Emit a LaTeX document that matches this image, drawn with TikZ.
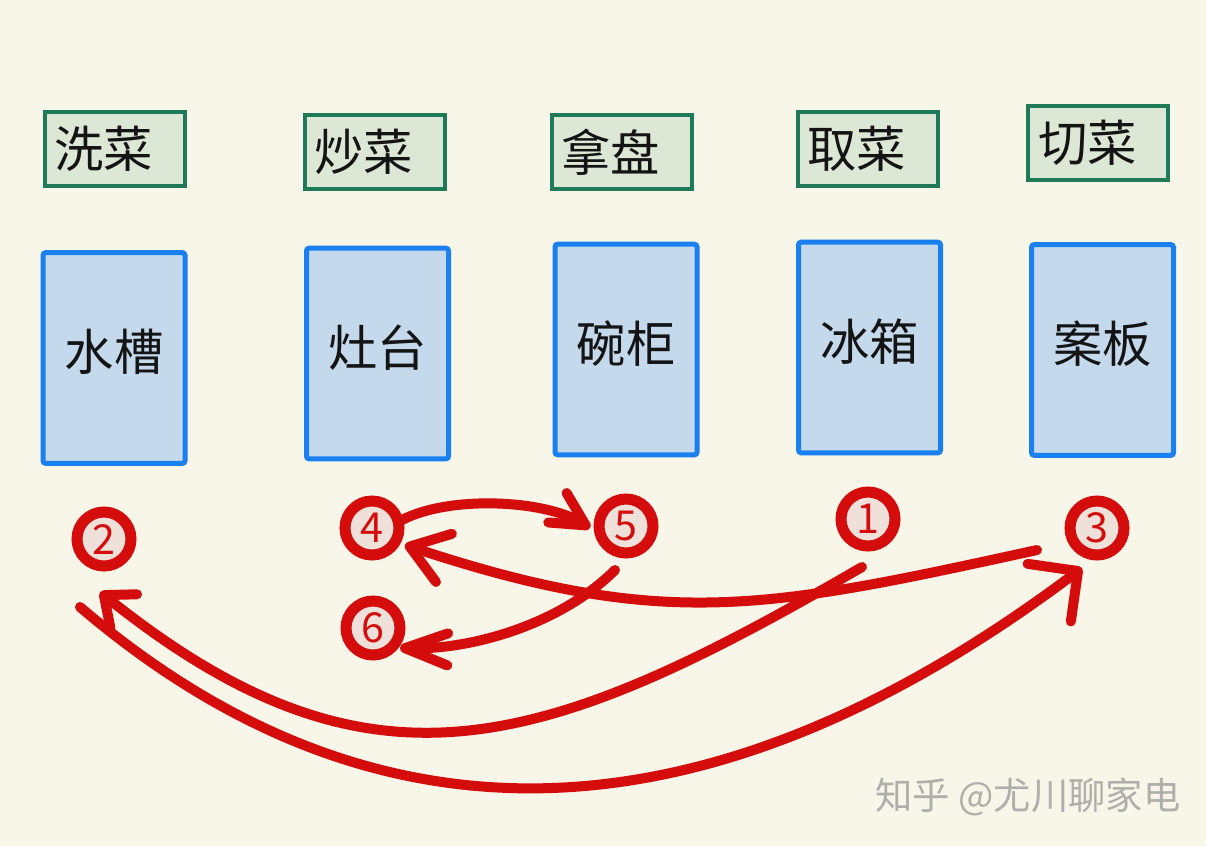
\documentclass[tikz,border=0pt]{standalone}
\usepackage{fontspec}
\newfontfamily\cjk{Noto Sans CJK SC}
\usetikzlibrary{arrows.meta}
\definecolor{bgc}{HTML}{F8F5E9}
\definecolor{taskfill}{HTML}{DDE7D6}
\definecolor{taskborder}{HTML}{1F7A58}
\definecolor{placefill}{HTML}{C5D9EC}
\definecolor{placeborder}{HTML}{1A80F0}
\definecolor{redc}{HTML}{D40C0C}
\definecolor{innerc}{HTML}{EFE0DA}
\definecolor{wmc}{HTML}{AEAEAA}
\begin{document}
\begin{tikzpicture}[x=0.75pt,y=-0.75pt,
  task/.style={draw=taskborder, fill=taskfill, line width=3pt, minimum width=105pt,
    minimum height=55.5pt, text width=90pt, inner xsep=7.5pt, inner ysep=0pt,
    align=left, font=\cjk\fontsize{37}{40}\selectfont, text=black!92},
  place/.style={draw=placeborder, fill=placefill, line width=3.75pt, rounded corners=2pt,
    minimum width=106.5pt, minimum height=158pt, inner sep=0pt, text depth=12pt,
    font=\cjk\fontsize{37}{40}\selectfont, text=black!92},
  stop/.style={circle, draw=redc, fill=innerc, line width=8.25pt, minimum size=40.5pt,
    inner sep=0pt, text=redc, font=\cjk\fontsize{31}{32}\selectfont},
  flow/.style={draw=redc, line width=7.5pt, line cap=round}
]
\useasboundingbox (0,0) rectangle (1206,846);
\fill[bgc] (0,0) rectangle (1206,846);

% task labels
\node[task] (t1) at (114.5,148.5) {洗菜};
\node[task] (t2) at (374.5,151.5) {炒菜};
\node[task] (t3) at (621.5,152) {拿盘};
\node[task] (t4) at (867.5,148.5) {取菜};
\node[task] (t5) at (1098,143) {切菜};

% places
\node[place] (p1) at (114,358) {水槽};
\node[place] (p2) at (377.5,353.5) {灶台};
\node[place] (p3) at (626,349.5) {碗柜};
\node[place] (p4) at (869.5,347.5) {冰箱};
\node[place] (p5) at (1102.5,350) {案板};

% steps
\node[stop] (c1) at (868,519) {1};
\node[stop] (c2) at (104,539) {2};
\node[stop] (c3) at (1097,528) {3};
\node[stop] (c4) at (372,528) {4};
\node[stop] (c5) at (626,526) {5};
\node[stop] (c6) at (373,628) {6};

% flows
\draw[flow, -{Straight Barb[length=19pt,width=32pt,round]}]
  ([shift={(-6,48)}]c1.center) .. controls (542,753) and (370,808) .. ([shift={(-4,53)}]c2.center);
\draw[flow, -{Straight Barb[length=27pt,width=54pt,round]}]
  ([shift={(-24,68)}]c2.center) .. controls (400,880) and (740,825) .. ([shift={(-15,40)}]c3.center);
\draw[flow, -{Straight Barb[length=27pt,width=38pt,round]}]
  ([shift={(-60,22)}]c3.center) .. controls (767,609) and (665,631) .. ([shift={(33,17)}]c4.center);
\draw[flow, -{Straight Barb[length=25pt,width=26pt,round]}]
  ([shift={(30,-8)}]c4.center) .. controls (450,495) and (545,500) .. ([shift={(-36,2)}]c5.center);
\draw[flow, -{Straight Barb[length=32pt,width=24pt,round]}]
  ([shift={(-11,44)}]c5.center) .. controls (560,625) and (470,650) .. ([shift={(27,20)}]c6.center);

% watermark
\node[font=\cjk\fontsize{28}{30}\selectfont, text=wmc] (wm) at (1028,797) {知乎 @尤川聊家电};
\end{tikzpicture}
\end{document}
